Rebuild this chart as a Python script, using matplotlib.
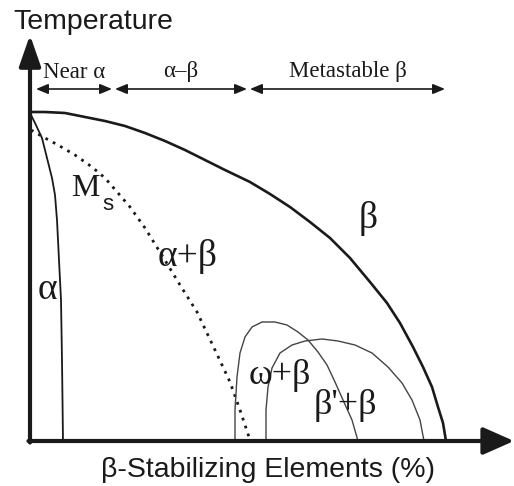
import numpy as np
import matplotlib
matplotlib.use("Agg")
import matplotlib.pyplot as plt

# curves (x = beta stabilizer content, y = temperature, arbitrary units)
beta_x = [0, 15, 35, 55, 75, 95, 115, 135, 155, 175, 195, 220, 240, 260,
          280, 300, 320, 340, 357, 370, 383, 393, 402, 408, 413, 416]
beta_y = [329, 329, 328, 324, 320, 315, 308, 300, 291, 281, 271, 259, 247, 234,
          219, 203, 183, 159, 138, 118, 94, 74, 54, 34, 18, 0]

alpha_x = [0, 5, 12, 17, 22, 25, 27, 28, 31, 32, 33]
alpha_y = [328, 318, 303, 283, 263, 246, 221, 201, 141, 81, 0]

ms_x = [1, 15, 28, 45, 62, 75, 88, 100, 115, 133, 150, 167, 185, 200, 210, 220]
ms_y = [311, 303, 296, 286, 274, 263, 248, 234, 213, 184, 156, 129, 91, 59, 31, 1]

omega_x = [205, 205, 207, 210, 215, 222, 232, 245, 257, 268, 278, 288, 297,
           305, 313, 322, 328]
omega_y = [0, 31, 64, 88, 104, 114, 119, 119, 116, 109, 101, 89, 76, 59, 41, 21, 0]

bprime_x = [236, 236, 238, 242, 250, 262, 275, 292, 308, 325, 342, 358, 372,
            382, 390, 394]
bprime_y = [0, 31, 54, 73, 88, 96, 100, 102, 100, 96, 88, 74, 58, 41, 21, 0]

# alloy class ranges along the top
ranges = [("Near α", 6, 82), ("α–β", 85, 217), ("Metastable β", 220, 415)]

SERIF = ["Liberation Serif", "DejaVu Serif"]
SANS = ["Liberation Sans", "DejaVu Sans"]
ink = "#1a1a1a"

fig = plt.figure(figsize=(5.14, 4.86), dpi=100)
ax = fig.add_axes([0, 0, 1, 1])
ax.set_xlim(-30, 484)
ax.set_ylim(-45, 441)
ax.axis("off")

# axes as arrows
ax.annotate("", xy=(0, 406), xytext=(0, -1.5),
            arrowprops=dict(arrowstyle="-|>,head_length=0.95,head_width=0.33",
                            mutation_scale=20, lw=3, color=ink,
                            shrinkA=0, shrinkB=0))
ax.annotate("", xy=(484, 0), xytext=(-1.5, 0),
            arrowprops=dict(arrowstyle="-|>,head_length=0.95,head_width=0.42",
                            mutation_scale=20, lw=3, color=ink,
                            shrinkA=0, shrinkB=0))

ax.plot(beta_x, beta_y, color=ink, lw=1.9, solid_capstyle="butt", solid_joinstyle="round")
ax.plot(alpha_x, alpha_y, color=ink, lw=1.3, solid_joinstyle="round")
ax.plot(ms_x, ms_y, color=ink, lw=2.0, linestyle=(0, (1, 2)))
ax.plot(omega_x, omega_y, color="#444444", lw=1.0, solid_joinstyle="round")
ax.plot(bprime_x, bprime_y, color="#444444", lw=1.0, solid_joinstyle="round")

for name, x0, x1 in ranges:
    ax.annotate("", xy=(x1, 352), xytext=(x0, 352),
                arrowprops=dict(arrowstyle="<|-|>,head_length=0.6,head_width=0.25",
                                mutation_scale=12, lw=1.2, color=ink,
                                shrinkA=0, shrinkB=0))
    ax.text((x0 + x1) / 2, 369, name, family=SERIF, fontsize=16.5,
            ha="center", va="center", color=ink)

ax.text(-17, 419, "Temperature", family=SANS, fontsize=20.5, ha="left",
        va="center", color=ink)
ax.text(238, -29, "β-Stabilizing Elements (%)", family=SANS, fontsize=20.5,
        ha="center", va="center", color=ink)

ax.text(17, 151, "α", family=SERIF, fontsize=27, ha="center", va="center", color=ink)
ax.text(55, 253, "M", family=SERIF, fontsize=23, ha="center", va="center", color=ink)
ax.text(78, 236, "s", family=SANS, fontsize=16, ha="center", va="center", color=ink)
ax.text(158, 184, "α+β", family=SERIF, fontsize=27, ha="center", va="center", color=ink)
ax.text(338, 223, "β", family=SERIF, fontsize=27, ha="center", va="center", color=ink)
ax.text(250, 65, "ω+β", family=SERIF, fontsize=26, ha="center", va="center", color=ink)
ax.text(315, 36, "β'+β", family=SERIF, fontsize=26, ha="center", va="center", color=ink)

fig.savefig("out.png", dpi=100)
